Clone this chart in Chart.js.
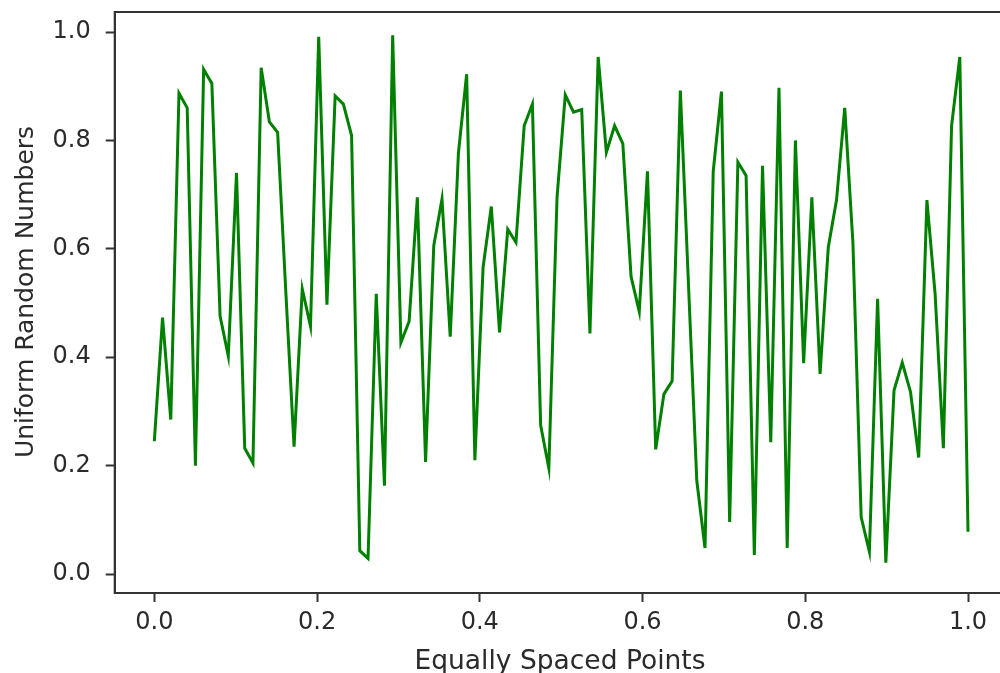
<!DOCTYPE html>
<html><head><meta charset="utf-8">
<script src="https://cdn.jsdelivr.net/npm/chart.js@4"></script>
<style>
html,body{margin:0;padding:0;background:#fff;overflow:hidden;width:1000px;height:673px}
#wrap{position:relative;width:1010px;height:673px}
canvas{display:block}
</style></head><body>
<div id="wrap"><canvas id="c" width="1010" height="673"></canvas></div>
<script>
// Series values (100 equally spaced points from 0 to 1)
const yValues = [
  0.245, 0.473, 0.285, 0.887, 0.860, 0.200, 0.931, 0.905, 0.476, 0.402,
  0.740, 0.232, 0.205, 0.934, 0.834, 0.815, 0.520, 0.235, 0.526, 0.457,
  0.991, 0.497, 0.882, 0.867, 0.809, 0.043, 0.029, 0.517, 0.163, 0.994,
  0.427, 0.466, 0.695, 0.207, 0.606, 0.692, 0.438, 0.777, 0.922, 0.210,
  0.566, 0.678, 0.446, 0.636, 0.612, 0.827, 0.867, 0.275, 0.195, 0.696,
  0.884, 0.852, 0.857, 0.444, 0.954, 0.778, 0.827, 0.794, 0.549, 0.484,
  0.743, 0.230, 0.332, 0.356, 0.892, 0.530, 0.172, 0.048, 0.743, 0.890,
  0.096, 0.760, 0.735, 0.035, 0.753, 0.243, 0.897, 0.048, 0.800, 0.389,
  0.695, 0.369, 0.603, 0.690, 0.860, 0.610, 0.105, 0.041, 0.508, 0.021,
  0.339, 0.390, 0.336, 0.215, 0.690, 0.516, 0.232, 0.827, 0.954, 0.078
];
const xStart = 0.0;
const xEnd = 1.0;
const xTicks = [0.0, 0.2, 0.4, 0.6, 0.8, 1.0];
const yTicks = [0.0, 0.2, 0.4, 0.6, 0.8, 1.0];
const xLabel = 'Equally Spaced Points';
const yLabel = 'Uniform Random Numbers';

const n = yValues.length;
const points = yValues.map((v, i) => ({ x: xStart + (xEnd - xStart) * i / (n - 1), y: v }));

const FONT = 'DejaVu Sans';
const TXT = '#2a2a2a';
const SPINE = '#333333';

const framePlugin = {
  id: 'frame',
  afterDraw(chart) {
    const { ctx, chartArea: a } = chart;
    ctx.save();
    ctx.strokeStyle = SPINE;
    ctx.lineWidth = 2;
    ctx.strokeRect(a.left, a.top, a.right - a.left, a.bottom - a.top);
    ctx.fillStyle = TXT;
    ctx.textAlign = 'center';
    ctx.textBaseline = 'alphabetic';
    ctx.font = '26.5px "' + FONT + '"';
    ctx.fillText(xLabel, 560, 668.5);
    ctx.translate(33, 292);
    ctx.rotate(-Math.PI / 2);
    ctx.font = '25px "' + FONT + '"';
    ctx.fillText(yLabel, 0, 0);
    ctx.restore();
  }
};

const gridOpts = { drawOnChartArea: false, drawTicks: true, tickLength: 9, tickColor: SPINE, tickWidth: 2 };

new Chart(document.getElementById('c').getContext('2d'), {
  type: 'line',
  data: {
    datasets: [{
      data: points,
      borderColor: '#008000',
      borderWidth: 3,
      pointRadius: 0,
      tension: 0,
      fill: false
    }]
  },
  options: {
    responsive: false,
    animation: false,
    devicePixelRatio: 1,
    layout: { padding: { left: 0, right: 1.3, top: 12, bottom: 0 } },
    plugins: { legend: { display: false }, tooltip: { enabled: false } },
    scales: {
      x: {
        type: 'linear', min: -0.0487, max: 1.05,
        afterBuildTicks: s => { s.ticks = xTicks.map(v => ({ value: v })); },
        afterFit: s => { s.height = 80; s.paddingLeft = 0; s.paddingRight = 0; },
        grid: gridOpts,
        border: { display: true, color: SPINE, width: 2 },
        ticks: {
          color: TXT, font: { family: FONT, size: 24 }, padding: 6,
          maxRotation: 0, autoSkip: false, callback: v => Number(v).toFixed(1)
        }
      },
      y: {
        type: 'linear', min: -0.035, max: 1.0369,
        afterBuildTicks: s => { s.ticks = yTicks.map(v => ({ value: v })); },
        afterFit: s => { s.width = 114.7; s.paddingTop = 0; s.paddingBottom = 0; },
        grid: gridOpts,
        border: { display: true, color: SPINE, width: 2 },
        ticks: {
          color: TXT, font: { family: FONT, size: 24 }, padding: 15,
          maxRotation: 0, autoSkip: false, callback: v => Number(v).toFixed(1)
        }
      }
    }
  },
  plugins: [framePlugin]
});
</script>
</body></html>
